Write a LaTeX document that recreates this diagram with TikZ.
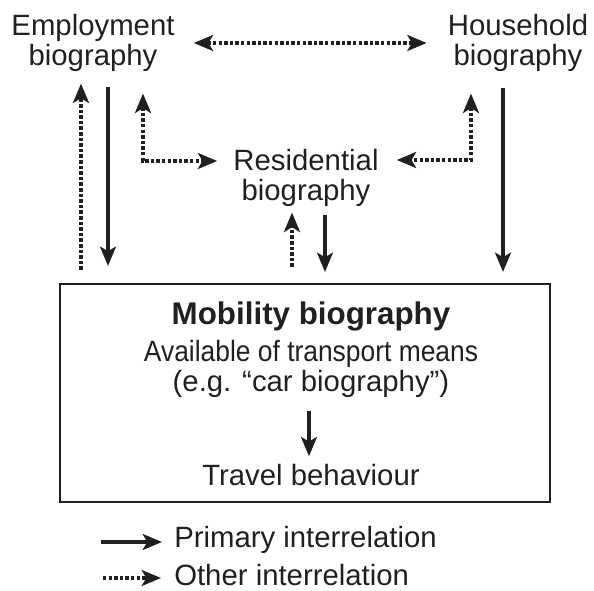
\documentclass[tikz,border=0pt]{standalone}
\usepackage{fontspec}
\setmainfont{Liberation Sans}
\usepackage{xcolor}
\usepackage{tikz}
\usetikzlibrary{arrows.meta,calc}

\definecolor{ink}{RGB}{35,31,32}

\tikzset{
  lbl/.style={inner sep=0.75pt, align=center, text=ink, font=\fontsize{22}{22}\selectfont},
  prim/.style={draw=ink, line width=2.4pt, -{Stealth[length=14.5pt,width=12pt,inset=3.5pt]}},
  oth/.style={prim, dash pattern=on 2.6pt off 1.6pt},
  dbl/.style={{Stealth[length=14.5pt,width=12pt,inset=3.5pt]}-{Stealth[length=14.5pt,width=12pt,inset=3.5pt]}}
}

\begin{document}
\begin{tikzpicture}[x=0.75pt,y=0.75pt,yscale=-1,xscale=1]

\useasboundingbox (0,0) rectangle (594,591);



\draw (93,43) node (emp) [lbl] {Employment\\biography};

\draw (518,43) node (hh) [lbl] {Household\\biography};

\draw (306,178) node (res) [lbl] {Residential\\biography};

\draw (305,393) node (mob) [draw=ink, line width=1.6pt, minimum width=367.5pt, minimum height=163.5pt] {};

\draw (311,316) node (title) [lbl, font=\fontsize{23.5}{23.5}\selectfont\bfseries] {Mobility biography};

\draw (311,369) node (avail) [lbl] {\scalebox{0.9}[1]{Available of transport means}\\(e.g. “car biography”)};

\draw (311,475.3) node (travel) [lbl] {Travel behaviour};

\draw (173,548) node (primlbl) [lbl, anchor=base west] {Primary interrelation};

\draw (173,586) node (othlbl) [lbl, anchor=base west] {Other interrelation};



\draw [oth, dbl] ($(emp.east)+(18,0)$) -- ($(hh.west)+(-20,0)$) ;

\draw [oth] ($(emp.south |- mob.north)+(-12,-13)$) -- ($(emp.south)+(-12,11)$) ;

\draw [prim] ($(emp.south)+(15,14)$) -- ($(emp.south |- mob.north)+(15,-17)$) ;

\draw [oth, dbl] ($(emp.south)+(50,21)$) |- ($(res.west)+(-15,-17)$) ;

\draw [oth, dbl] ($(hh.south)+(-47,21)$) |- ($(res.east)+(17,-18)$) ;

\draw [prim] ($(hh.south)+(-15,15)$) -- ($(hh.south |- mob.north)+(-15,-11)$) ;

\draw [oth] ($(res.south |- mob.north)+(-14,-16)$) -- ($(res.south)+(-14,5)$) ;

\draw [prim] ($(res.south)+(19,7)$) -- ($(res.south |- mob.north)+(19,-11)$) ;

\draw [prim] ($(avail.south)+(-2,12)$) -- ($(travel.north)+(-2,-7)$) ;

\draw [prim] ($(primlbl.base west)+(-72,-6)$) -- ($(primlbl.base west)+(-11,-6)$) ;

\draw [oth] ($(othlbl.base west)+(-70,-8)$) -- ($(othlbl.base west)+(-12,-8)$) ;


\end{tikzpicture}
\end{document}
